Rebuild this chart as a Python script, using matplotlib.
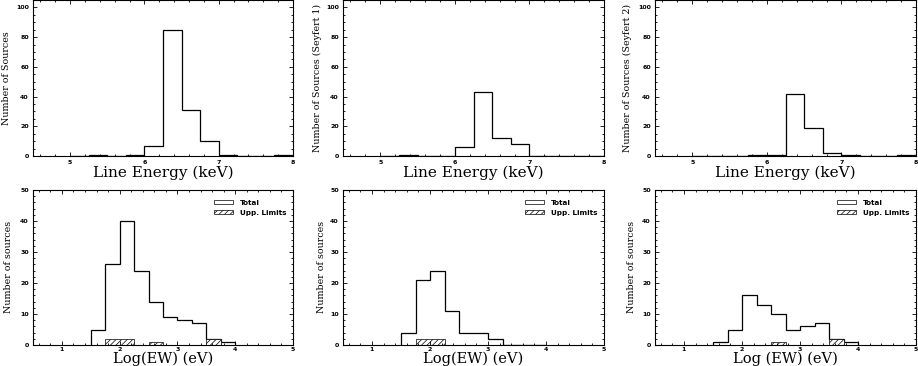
import matplotlib
matplotlib.use("Agg")
import matplotlib.pyplot as plt
from matplotlib.patches import Patch
from matplotlib.ticker import MultipleLocator

plt.rcParams['hatch.linewidth'] = 0.5

# ---------------- data ----------------
energy_edges = [5.0, 5.25, 5.5, 5.75, 6.0, 6.25, 6.5, 6.75, 7.0, 7.25, 7.5, 7.75, 8.0]
energy_all   = [0, 1, 0, 1, 7, 85, 31, 10, 1, 0, 0, 1]
energy_sy1   = [0, 1, 0, 0, 6, 43, 12, 8, 0, 0, 0, 0]
energy_sy2   = [0, 0, 0, 1, 1, 42, 19, 2, 1, 0, 0, 1]

ew_edges     = [1.5, 1.75, 2.0, 2.25, 2.5, 2.75, 3.0, 3.25, 3.5, 3.75, 4.0]
ew_all_total = [5, 26, 40, 24, 14, 9, 8, 7, 2, 1]
ew_all_upp   = [0, 2, 2, 0, 1, 0, 0, 0, 2, 0]
ew_sy1_total = [4, 21, 24, 11, 4, 4, 2, 0, 0, 0]
ew_sy1_upp   = [0, 2, 2, 0, 0, 0, 0, 0, 0, 0]
ew_sy2_total = [1, 5, 16, 13, 10, 5, 6, 7, 2, 1]
ew_sy2_upp   = [0, 0, 0, 0, 1, 0, 0, 0, 2, 0]

top_ylabels = ["Number of Sources", "Number of Sources (Seyfert 1)", "Number of Sources (Seyfert 2)"]
bot_ylabels = ["Number of sources", "Number of sources", "Number of sources"]
top_xlabel = "Line Energy (keV)"
bot_xlabels = ["Log(EW) (eV)", "Log(EW) (eV)", "Log (EW) (eV)"]
legend_labels = ["Total", "Upp. Limits"]

# ---------------- layout ----------------
W, H = 918, 366
fig = plt.figure(figsize=(W / 100, H / 100), dpi=100)

lefts = [33, 343, 655]
widths = [260, 261, 261]
top_y0, top_y1 = 0, 156
bot_y0, bot_y1 = 190, 345
ylab_top_x = [7, 317, 627]
ylab_bot_x = [9, 321, 631]

def frac_rect(x0, w, y0, y1):
    return [x0 / W, 1 - y1 / H, w / W, (y1 - y0) / H]

def style(ax, xmaj, xmin, ymaj, ymin, xpad=3):
    ax.xaxis.set_major_locator(MultipleLocator(xmaj))
    ax.xaxis.set_minor_locator(MultipleLocator(xmin))
    ax.yaxis.set_major_locator(MultipleLocator(ymaj))
    ax.yaxis.set_minor_locator(MultipleLocator(ymin))
    ax.tick_params(which='both', direction='in', top=True, right=True,
                   labelsize=4.5, width=0.6)
    ax.tick_params(which='major', length=3, pad=3)
    ax.tick_params(axis='x', which='major', pad=xpad)
    ax.tick_params(which='minor', length=1.6)
    for sp in ax.spines.values():
        sp.set_linewidth(0.8)

def bold_ticks(ax):
    for lab in ax.get_xticklabels() + ax.get_yticklabels():
        lab.set_fontweight('bold')

top_data = [energy_all, energy_sy1, energy_sy2]
for i in range(3):
    ax = fig.add_axes(frac_rect(lefts[i], widths[i], top_y0, top_y1))
    ax.stairs(top_data[i], energy_edges, color='black', linewidth=0.9)
    ax.set_xlim(4.5, 8.0)
    ax.set_ylim(0, 105)
    style(ax, 1, 0.2, 20, 5)
    ax.set_xticks([5, 6, 7, 8])
    bold_ticks(ax)
    fig.text((lefts[i] + widths[i] / 2) / W, 1 - 173 / H, top_xlabel,
             ha='center', va='center', fontsize=11, family='DejaVu Serif')
    fig.text(ylab_top_x[i] / W, 1 - 78 / H, top_ylabels[i], rotation=90,
             ha='center', va='center', fontsize=6.8, family='DejaVu Serif')

bot_tot = [ew_all_total, ew_sy1_total, ew_sy2_total]
bot_upp = [ew_all_upp, ew_sy1_upp, ew_sy2_upp]
for i in range(3):
    ax = fig.add_axes(frac_rect(lefts[i], widths[i], bot_y0, bot_y1))
    ax.stairs(bot_tot[i], ew_edges, color='black', linewidth=0.9)
    ax.stairs(bot_upp[i], ew_edges, fill=True, facecolor='white', edgecolor='black',
              hatch='//////', linewidth=0.5)
    ax.set_xlim(0.5, 5.0)
    ax.set_ylim(0, 50)
    style(ax, 1, 0.2, 10, 2, xpad=1.5)
    ax.set_xticks([1, 2, 3, 4, 5])
    bold_ticks(ax)
    fig.text((lefts[i] + widths[i] / 2) / W, 1 - 363 / H, bot_xlabels[i],
             ha='center', va='baseline', fontsize=10.5, family='DejaVu Serif')
    fig.text(ylab_bot_x[i] / W, 1 - 267 / H, bot_ylabels[i], rotation=90,
             ha='center', va='center', fontsize=6.8, family='DejaVu Serif')
    handles = [Patch(facecolor='white', edgecolor='black', linewidth=0.5),
               Patch(facecolor='white', edgecolor='black', hatch='//////', linewidth=0.5)]
    leg = ax.legend(handles, legend_labels, loc='upper right', frameon=False,
                    fontsize=5.2, handlelength=2.6, handleheight=0.55,
                    bbox_to_anchor=(1.0, 0.98), labelspacing=0.55, handletextpad=1.0)
    for t in leg.get_texts():
        t.set_fontweight('bold')

fig.savefig("out.png", dpi=100)
